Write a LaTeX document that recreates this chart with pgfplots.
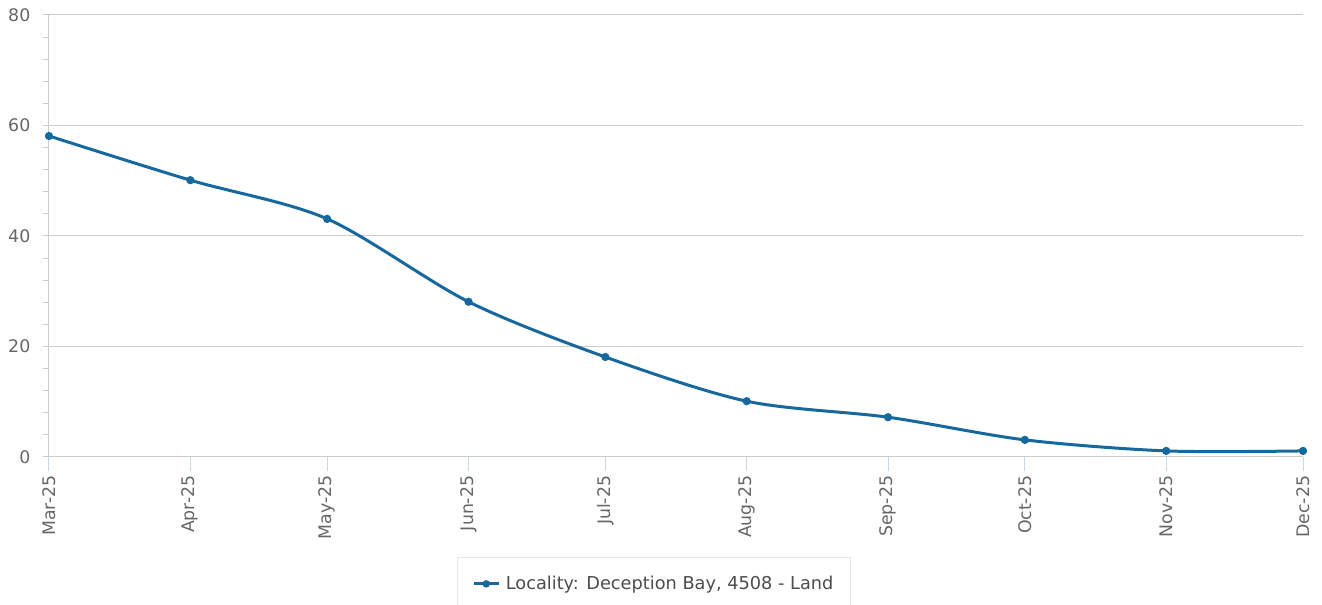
\documentclass[border=0pt]{standalone}
\usepackage{pgfplots}
\pgfplotsset{compat=1.18}
\usepackage{fontspec}
\setmainfont{DejaVu Sans}
\definecolor{txt}{HTML}{666666}
\definecolor{legtxt}{HTML}{4D4D4D}
\definecolor{gridc}{HTML}{CCCCCC}
\definecolor{linec}{HTML}{17689C}
\definecolor{xtickc}{HTML}{CCD6EB}
\definecolor{legbox}{HTML}{E6E6E6}
\begin{document}
\begin{tikzpicture}
\path[use as bounding box] (-36.75pt,-111pt) rectangle (954.75pt,342.75pt);
\begin{axis}[
  scale only axis, width=940.5pt, height=331.5pt,
  xmin=0, xmax=275, ymin=0, ymax=80,
  xtick=\empty,
  extra x ticks={0,31,61,92,122,153,184,214,245,275},
  extra x tick labels={Mar-25,Apr-25,May-25,Jun-25,Jul-25,Aug-25,Sep-25,Oct-25,Nov-25,Dec-25},
  extra x tick style={major tick length=10.5pt,
    tick style={draw=xtickc, line width=0.75pt},
    tick label style={rotate=90, anchor=east, font=\fontsize{13}{15}\selectfont, text=txt}},
  ytick={0,20,40,60,80},
  minor y tick num=4,
  ymajorgrids,
  grid style={draw=gridc, line width=0.75pt},
  axis x line*=bottom, axis y line*=left,
  axis line style={draw=gridc, line width=0.75pt},
  tick align=outside,
  major tick length=4.5pt, minor tick length=4.5pt,
  ytick style={draw=gridc, line width=0.75pt},
  /pgf/number format/assume math mode=true,
  tick label style={font=\fontsize{13}{15}\selectfont, text=txt},
  y tick label style={xshift=-6pt},
  clip=false,
  legend style={at={(0.3254,-0.2262)}, anchor=north west, draw=legbox, line width=0.75pt,
    font=\fontsize{13.3}{15}\selectfont, text=legtxt, inner xsep=11pt, inner ysep=12pt},
  legend image code/.code={\draw[line width=2.25pt] (0pt,0pt) -- (18.75pt,0pt); \fill (9.375pt,0pt) circle (1.6pt); \path (21pt,0pt);},
]
\addplot[linec, line width=2.25pt, smooth, tension=0.5, mark=*, mark size=1.9pt,
  mark options={fill=linec, draw=linec}] coordinates {
  (0,58.1) (31,50.1) (61,43.1) (92,28.1) (122,18.1) (153,10.1) (184,7.2) (214,3.1) (245,1.1) (275,1.1)};
\addlegendentry{Locality: Deception Bay, 4508 - Land}
\end{axis}
\end{tikzpicture}
\end{document}
